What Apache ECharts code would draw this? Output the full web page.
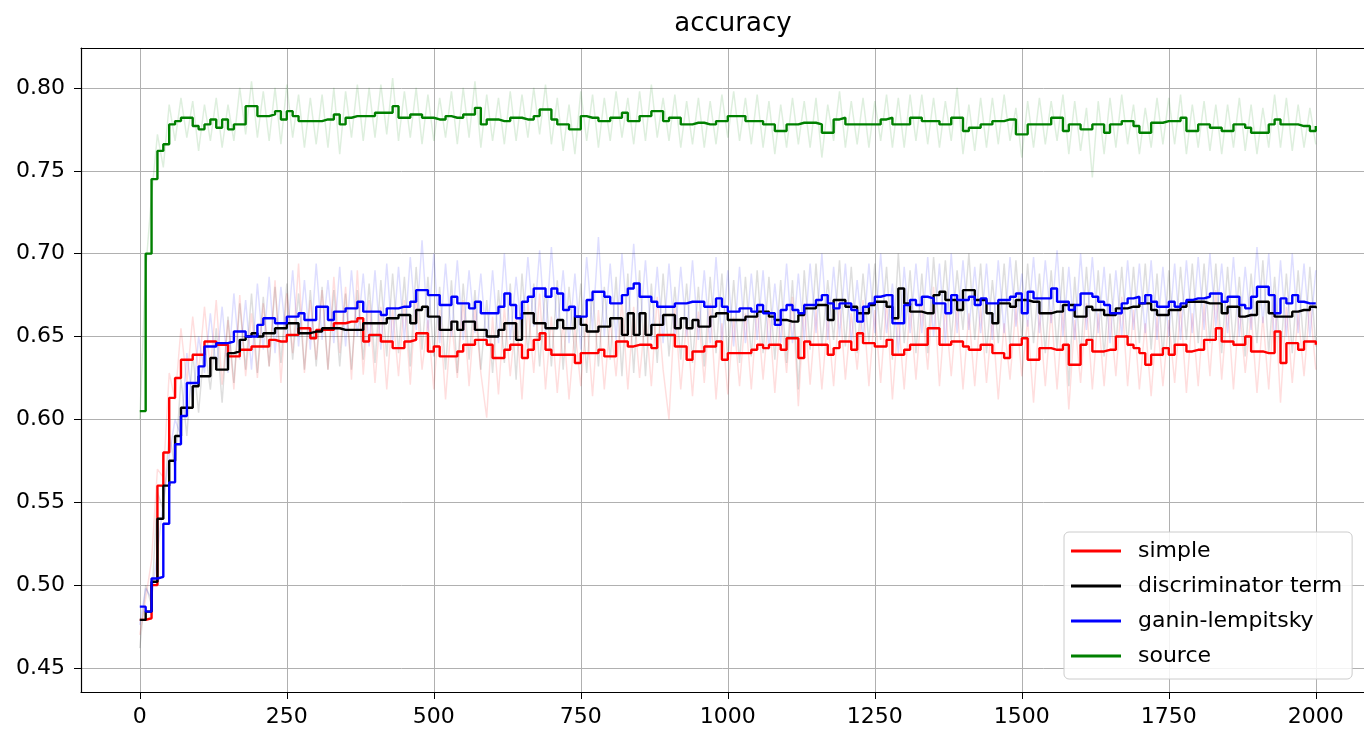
<html>
<head>
<meta charset="utf-8">
<title>accuracy</title>
<script src="https://cdn.jsdelivr.net/npm/echarts@6.0.0/dist/echarts.min.js"></script>
</head>
<body style="margin:0;background:#fff">
<div id="chart" style="width:1364px;height:733px;"></div>
<script type="text/javascript">
// iteration index, one value every 10 steps
var steps = [];
for (var i = 0; i <= 200; i++) steps.push(i * 10);

var names = ['simple', 'discriminator term', 'ganin-lempitsky', 'source'];
var colors = ['#ff0000', '#000000', '#0000ff', '#008000'];
var xTicks = [0, 250, 500, 750, 1000, 1250, 1500, 1750, 2000];
var yTicks = [0.45, 0.50, 0.55, 0.60, 0.65, 0.70, 0.75, 0.80];

// smoothed curves (bold step lines)
var simple = [
 0.479,0.480,0.500,0.560,0.580,0.613,0.625,0.636,0.636,0.639,
 0.639,0.647,0.647,0.645,0.645,0.638,0.638,0.642,0.642,0.644,
 0.644,0.644,0.648,0.647,0.647,0.651,0.651,0.655,0.655,0.649,
 0.654,0.654,0.654,0.658,0.658,0.659,0.659,0.661,0.647,0.651,
 0.651,0.647,0.647,0.643,0.643,0.647,0.648,0.652,0.652,0.641,
 0.644,0.638,0.638,0.638,0.641,0.645,0.645,0.648,0.648,0.645,
 0.637,0.637,0.642,0.645,0.645,0.637,0.642,0.648,0.652,0.642,
 0.639,0.639,0.639,0.639,0.634,0.640,0.640,0.640,0.642,0.638,
 0.638,0.647,0.647,0.644,0.645,0.645,0.645,0.643,0.651,0.651,
 0.651,0.644,0.644,0.636,0.641,0.641,0.644,0.644,0.647,0.636,
 0.640,0.640,0.640,0.640,0.642,0.645,0.643,0.645,0.645,0.642,
 0.649,0.649,0.637,0.647,0.645,0.645,0.645,0.639,0.643,0.647,
 0.647,0.642,0.652,0.646,0.646,0.644,0.644,0.648,0.639,0.639,
 0.642,0.645,0.645,0.645,0.655,0.655,0.645,0.645,0.647,0.647,
 0.644,0.642,0.642,0.645,0.645,0.640,0.640,0.637,0.645,0.645,
 0.649,0.636,0.636,0.643,0.643,0.642,0.642,0.645,0.633,0.633,
 0.645,0.648,0.641,0.641,0.642,0.642,0.650,0.650,0.645,0.643,
 0.640,0.633,0.639,0.639,0.643,0.639,0.645,0.645,0.641,0.642,
 0.642,0.648,0.648,0.655,0.647,0.647,0.645,0.645,0.650,0.641,
 0.641,0.640,0.640,0.653,0.634,0.646,0.646,0.642,0.647,0.647,
 0.645];
var discrim = [
 0.479,0.484,0.502,0.540,0.560,0.575,0.590,0.607,0.607,0.620,
 0.626,0.626,0.637,0.630,0.630,0.640,0.641,0.648,0.650,0.652,
 0.650,0.652,0.652,0.655,0.655,0.658,0.658,0.652,0.652,0.653,
 0.653,0.655,0.655,0.655,0.654,0.654,0.654,0.654,0.658,0.658,
 0.658,0.658,0.661,0.661,0.663,0.663,0.658,0.666,0.668,0.662,
 0.662,0.654,0.654,0.659,0.654,0.659,0.659,0.654,0.654,0.650,
 0.650,0.654,0.658,0.658,0.648,0.664,0.664,0.658,0.658,0.655,
 0.655,0.660,0.655,0.655,0.662,0.657,0.653,0.653,0.656,0.656,
 0.661,0.661,0.651,0.664,0.651,0.664,0.651,0.657,0.657,0.663,
 0.663,0.655,0.661,0.655,0.660,0.656,0.656,0.662,0.664,0.664,
 0.660,0.660,0.660,0.662,0.662,0.665,0.665,0.662,0.660,0.660,
 0.659,0.659,0.663,0.667,0.667,0.669,0.669,0.660,0.672,0.672,
 0.668,0.668,0.664,0.664,0.669,0.671,0.671,0.668,0.661,0.679,
 0.670,0.665,0.665,0.664,0.664,0.675,0.677,0.672,0.672,0.666,
 0.678,0.678,0.672,0.672,0.664,0.658,0.670,0.670,0.668,0.672,
 0.672,0.671,0.671,0.664,0.664,0.665,0.665,0.669,0.669,0.662,
 0.662,0.668,0.666,0.666,0.663,0.663,0.667,0.667,0.668,0.668,
 0.670,0.670,0.666,0.663,0.663,0.666,0.666,0.668,0.671,0.671,
 0.671,0.670,0.670,0.670,0.664,0.668,0.668,0.662,0.663,0.663,
 0.671,0.671,0.664,0.662,0.662,0.662,0.665,0.666,0.666,0.668,
 0.667];
var ganin = [
 0.487,0.484,0.504,0.505,0.537,0.562,0.585,0.602,0.622,0.622,
 0.632,0.644,0.644,0.646,0.646,0.647,0.653,0.653,0.650,0.650,
 0.657,0.661,0.661,0.658,0.658,0.662,0.662,0.664,0.660,0.660,
 0.668,0.668,0.660,0.665,0.665,0.667,0.667,0.671,0.665,0.665,
 0.665,0.663,0.667,0.667,0.668,0.668,0.671,0.678,0.678,0.675,
 0.675,0.669,0.669,0.674,0.670,0.670,0.667,0.671,0.664,0.664,
 0.664,0.668,0.676,0.669,0.661,0.671,0.674,0.679,0.679,0.674,
 0.679,0.676,0.666,0.668,0.662,0.662,0.672,0.677,0.677,0.674,
 0.670,0.670,0.675,0.679,0.682,0.674,0.674,0.671,0.668,0.668,
 0.668,0.670,0.670,0.671,0.671,0.671,0.668,0.668,0.673,0.668,
 0.665,0.665,0.667,0.667,0.665,0.669,0.664,0.664,0.657,0.666,
 0.669,0.666,0.664,0.669,0.669,0.672,0.675,0.670,0.667,0.670,
 0.670,0.666,0.659,0.668,0.670,0.674,0.675,0.675,0.658,0.658,
 0.669,0.672,0.669,0.674,0.673,0.670,0.670,0.664,0.675,0.672,
 0.672,0.674,0.669,0.673,0.670,0.670,0.672,0.672,0.674,0.676,
 0.664,0.677,0.673,0.673,0.673,0.679,0.671,0.671,0.666,0.669,
 0.676,0.676,0.674,0.671,0.669,0.664,0.664,0.670,0.673,0.674,
 0.670,0.675,0.671,0.668,0.668,0.671,0.668,0.670,0.672,0.673,
 0.673,0.674,0.676,0.676,0.671,0.674,0.674,0.669,0.667,0.674,
 0.680,0.680,0.675,0.664,0.673,0.670,0.675,0.671,0.670,0.670,
 0.670];
var source = [
 0.605,0.700,0.745,0.762,0.766,0.778,0.780,0.782,0.782,0.777,
 0.775,0.778,0.781,0.776,0.781,0.775,0.778,0.778,0.789,0.789,
 0.783,0.783,0.784,0.786,0.781,0.786,0.783,0.780,0.780,0.780,
 0.780,0.781,0.781,0.784,0.778,0.782,0.783,0.783,0.783,0.783,
 0.785,0.785,0.785,0.789,0.782,0.782,0.784,0.784,0.782,0.782,
 0.781,0.781,0.783,0.782,0.782,0.784,0.784,0.788,0.778,0.781,
 0.781,0.780,0.780,0.782,0.782,0.781,0.781,0.783,0.787,0.787,
 0.781,0.778,0.778,0.775,0.775,0.783,0.782,0.782,0.780,0.780,
 0.782,0.782,0.785,0.780,0.780,0.783,0.783,0.786,0.786,0.780,
 0.782,0.782,0.778,0.778,0.779,0.779,0.778,0.778,0.780,0.780,
 0.783,0.783,0.783,0.780,0.780,0.780,0.778,0.778,0.774,0.774,
 0.778,0.778,0.779,0.779,0.779,0.778,0.773,0.773,0.781,0.782,
 0.778,0.778,0.778,0.778,0.778,0.778,0.781,0.782,0.778,0.778,
 0.778,0.782,0.782,0.780,0.780,0.780,0.778,0.778,0.782,0.782,
 0.774,0.776,0.776,0.778,0.778,0.780,0.780,0.781,0.781,0.772,
 0.772,0.778,0.778,0.778,0.778,0.782,0.782,0.774,0.778,0.778,
 0.775,0.775,0.778,0.778,0.773,0.778,0.778,0.780,0.780,0.777,
 0.773,0.773,0.779,0.779,0.780,0.780,0.780,0.782,0.774,0.774,
 0.778,0.778,0.776,0.776,0.774,0.774,0.778,0.778,0.776,0.773,
 0.773,0.773,0.778,0.781,0.778,0.778,0.778,0.777,0.777,0.774,
 0.777];

// raw measurements (faint lines)
var simpleRaw = [
 0.470,0.492,0.515,0.570,0.565,0.628,0.612,0.655,0.622,0.662,
 0.628,0.668,0.630,0.672,0.621,0.660,0.618,0.675,0.626,0.664,
 0.625,0.670,0.632,0.684,0.622,0.676,0.640,0.694,0.628,0.672,
 0.636,0.678,0.630,0.686,0.640,0.680,0.624,0.690,0.627,0.672,
 0.622,0.668,0.618,0.666,0.626,0.672,0.621,0.676,0.630,0.660,
 0.618,0.666,0.612,0.660,0.625,0.672,0.620,0.668,0.628,0.601,
 0.662,0.615,0.668,0.626,0.664,0.612,0.670,0.628,0.676,0.618,
 0.662,0.616,0.660,0.612,0.655,0.620,0.662,0.614,0.666,0.618,
 0.660,0.626,0.672,0.618,0.668,0.625,0.664,0.620,0.674,0.630,
 0.600,0.668,0.618,0.660,0.614,0.665,0.622,0.670,0.612,0.658,
 0.615,0.662,0.620,0.664,0.618,0.668,0.624,0.666,0.616,0.664,
 0.628,0.674,0.608,0.670,0.621,0.666,0.618,0.662,0.620,0.672,
 0.624,0.664,0.630,0.672,0.620,0.666,0.622,0.672,0.612,0.662,
 0.618,0.668,0.624,0.670,0.630,0.680,0.620,0.668,0.626,0.670,
 0.618,0.664,0.620,0.668,0.622,0.662,0.612,0.658,0.624,0.668,
 0.626,0.660,0.610,0.664,0.620,0.666,0.618,0.668,0.606,0.660,
 0.622,0.670,0.618,0.664,0.620,0.666,0.626,0.674,0.620,0.666,
 0.618,0.658,0.614,0.662,0.620,0.660,0.622,0.668,0.616,0.664,
 0.620,0.670,0.626,0.678,0.624,0.670,0.618,0.668,0.628,0.664,
 0.616,0.662,0.618,0.676,0.610,0.668,0.622,0.664,0.626,0.670,
 0.630];
var discrimRaw = [
 0.462,0.500,0.488,0.556,0.545,0.592,0.570,0.625,0.590,0.640,
 0.604,0.646,0.618,0.655,0.610,0.662,0.622,0.670,0.630,0.676,
 0.628,0.674,0.632,0.680,0.634,0.682,0.636,0.676,0.630,0.678,
 0.632,0.680,0.630,0.678,0.632,0.676,0.630,0.678,0.636,0.682,
 0.634,0.684,0.638,0.688,0.640,0.686,0.632,0.692,0.642,0.686,
 0.638,0.680,0.630,0.684,0.628,0.682,0.636,0.678,0.630,0.672,
 0.628,0.678,0.634,0.682,0.624,0.688,0.640,0.682,0.632,0.680,
 0.632,0.684,0.630,0.680,0.638,0.682,0.628,0.678,0.632,0.680,
 0.636,0.686,0.626,0.688,0.628,0.690,0.626,0.682,0.634,0.688,
 0.638,0.680,0.636,0.682,0.634,0.680,0.632,0.686,0.640,0.688,
 0.636,0.684,0.634,0.686,0.638,0.690,0.640,0.686,0.636,0.684,
 0.634,0.684,0.618,0.690,0.642,0.694,0.644,0.684,0.648,0.696,
 0.644,0.692,0.640,0.688,0.646,0.694,0.648,0.692,0.636,0.700,
 0.646,0.690,0.640,0.688,0.640,0.698,0.652,0.696,0.648,0.690,
 0.654,0.700,0.648,0.694,0.640,0.684,0.646,0.694,0.644,0.696,
 0.648,0.694,0.646,0.688,0.640,0.690,0.642,0.692,0.620,0.686,
 0.638,0.692,0.642,0.690,0.638,0.688,0.644,0.692,0.644,0.692,
 0.646,0.694,0.642,0.688,0.638,0.690,0.642,0.692,0.648,0.694,
 0.646,0.694,0.646,0.694,0.640,0.692,0.644,0.686,0.638,0.688,
 0.646,0.696,0.640,0.686,0.638,0.688,0.640,0.690,0.642,0.692,
 0.644];
var ganinRaw = [
 0.476,0.498,0.492,0.520,0.550,0.578,0.600,0.590,0.640,0.610,
 0.650,0.628,0.664,0.630,0.668,0.628,0.676,0.636,0.672,0.630,
 0.682,0.642,0.686,0.640,0.680,0.646,0.690,0.644,0.684,0.642,
 0.694,0.648,0.684,0.646,0.692,0.644,0.690,0.650,0.688,0.644,
 0.690,0.642,0.694,0.646,0.692,0.648,0.698,0.654,0.708,0.652,
 0.700,0.646,0.694,0.650,0.696,0.648,0.690,0.652,0.688,0.644,
 0.690,0.646,0.700,0.648,0.686,0.650,0.698,0.656,0.702,0.650,
 0.704,0.654,0.690,0.646,0.688,0.642,0.698,0.654,0.710,0.650,
 0.694,0.648,0.700,0.656,0.706,0.652,0.696,0.648,0.692,0.646,
 0.694,0.648,0.692,0.650,0.696,0.648,0.690,0.646,0.698,0.646,
 0.690,0.644,0.692,0.646,0.688,0.648,0.690,0.642,0.682,0.646,
 0.694,0.646,0.688,0.648,0.694,0.652,0.700,0.648,0.692,0.650,
 0.694,0.646,0.684,0.648,0.694,0.652,0.700,0.652,0.682,0.640,
 0.692,0.652,0.694,0.652,0.698,0.650,0.694,0.646,0.700,0.652,
 0.696,0.654,0.692,0.652,0.694,0.648,0.696,0.652,0.698,0.656,
 0.688,0.656,0.698,0.652,0.696,0.658,0.702,0.650,0.692,0.648,
 0.700,0.654,0.698,0.652,0.692,0.646,0.690,0.650,0.696,0.654,
 0.694,0.652,0.696,0.648,0.692,0.650,0.694,0.648,0.696,0.652,
 0.698,0.654,0.700,0.656,0.694,0.652,0.698,0.650,0.692,0.654,
 0.704,0.658,0.700,0.646,0.696,0.650,0.700,0.652,0.694,0.650,
 0.690];
var sourceRaw = [
 0.600,0.690,0.735,0.772,0.752,0.790,0.768,0.794,0.770,0.792,
 0.762,0.790,0.768,0.794,0.764,0.790,0.768,0.800,0.772,0.804,
 0.770,0.798,0.768,0.800,0.766,0.802,0.770,0.796,0.764,0.794,
 0.766,0.796,0.764,0.800,0.760,0.798,0.770,0.802,0.768,0.800,
 0.770,0.802,0.772,0.806,0.768,0.798,0.770,0.800,0.766,0.796,
 0.768,0.794,0.770,0.798,0.766,0.800,0.770,0.804,0.764,0.796,
 0.768,0.794,0.766,0.798,0.768,0.796,0.770,0.800,0.772,0.802,
 0.766,0.794,0.762,0.790,0.760,0.798,0.768,0.796,0.764,0.794,
 0.768,0.798,0.770,0.794,0.766,0.798,0.768,0.802,0.770,0.794,
 0.768,0.796,0.764,0.792,0.766,0.794,0.764,0.792,0.766,0.796,
 0.770,0.798,0.768,0.794,0.766,0.796,0.764,0.792,0.760,0.790,
 0.764,0.794,0.766,0.792,0.764,0.794,0.758,0.790,0.768,0.798,
 0.764,0.792,0.766,0.794,0.764,0.792,0.768,0.796,0.764,0.794,
 0.764,0.796,0.768,0.796,0.766,0.794,0.764,0.792,0.768,0.800,
 0.760,0.790,0.762,0.794,0.764,0.794,0.766,0.796,0.768,0.788,
 0.758,0.792,0.764,0.794,0.766,0.792,0.768,0.796,0.760,0.792,
 0.762,0.788,0.746,0.792,0.760,0.794,0.764,0.796,0.766,0.790,
 0.760,0.788,0.764,0.794,0.766,0.794,0.766,0.796,0.760,0.790,
 0.764,0.792,0.762,0.790,0.760,0.790,0.764,0.794,0.762,0.790,
 0.760,0.788,0.764,0.796,0.764,0.794,0.762,0.790,0.764,0.788,
 0.766];

var smooth = [simple, discrim, ganin, source];
var raw = [simpleRaw, discrimRaw, ganinRaw, sourceRaw];

function pairs(vals) {
    return vals.map(function (v, i) { return [steps[i], v]; });
}

var font = 'DejaVu Sans';
var series = [];
// faint raw lines first, bold smoothed lines on top
raw.forEach(function (vals, k) {
    series.push({
        name: names[k] + ' raw',
        type: 'line',
        data: pairs(vals),
        showSymbol: false,
        silent: true,
        color: colors[k],
        lineStyle: { width: 1.5, opacity: 0.13 },
        z: 2
    });
});
smooth.forEach(function (vals, k) {
    series.push({
        name: names[k],
        type: 'line',
        step: 'end',
        data: pairs(vals),
        showSymbol: false,
        color: colors[k],
        lineStyle: { width: 2.4 },
        z: 3 + k
    });
});

var chart = echarts.init(document.getElementById('chart'));
chart.setOption({
    animation: false,
    backgroundColor: '#fff',
    title: {
        text: 'accuracy',
        left: 728,
        textAlign: 'center',
        top: 6,
        textStyle: { fontFamily: font, fontSize: 26, fontWeight: 'normal', color: '#000' }
    },
    legend: {
        data: names,
        orient: 'vertical',
        left: 1064,
        top: 532,
        icon: 'rect',
        itemWidth: 50,
        itemHeight: 3,
        itemGap: 13,
        padding: [8, 10, 12, 7],
        backgroundColor: 'rgba(255,255,255,0.85)',
        borderColor: '#cccccc',
        borderWidth: 1,
        borderRadius: 5,
        textStyle: { fontFamily: font, fontSize: 22, color: '#000', padding: [0, 0, 0, 12] }
    },
    // plot area runs past the right edge of the picture, so no right border
    grid: {
        left: 81,
        top: 48,
        right: 0,
        height: 644,
        show: false,
        containLabel: false
    },
    xAxis: [{
        type: 'value',
        min: -100,
        max: 2082,
        axisLine: { show: true, lineStyle: { color: '#000', width: 1.2 } },
        axisTick: { show: true, inside: false, length: 7, customValues: xTicks, lineStyle: { color: '#000' } },
        axisLabel: {
            customValues: xTicks, margin: 14, fontFamily: font, fontSize: 22, color: '#000',
            formatter: function (v) { return String(v); }
        },
        splitLine: { show: true, lineStyle: { color: '#b0b0b0', width: 1 } }
    }, {
        type: 'value',
        position: 'top',
        min: -100,
        max: 2082,
        axisLine: { show: true, onZero: false, lineStyle: { color: '#000', width: 1.2 } },
        axisTick: { show: false },
        axisLabel: { show: false },
        splitLine: { show: false }
    }],
    yAxis: {
        type: 'value',
        min: 0.4355,
        max: 0.8241,
        axisLine: { show: true, onZero: false, lineStyle: { color: '#000', width: 1.2 } },
        axisTick: { show: true, inside: false, length: 7, customValues: yTicks, lineStyle: { color: '#000' } },
        axisLabel: {
            customValues: yTicks, margin: 16, fontFamily: font, fontSize: 22, color: '#000',
            formatter: function (v) { return v.toFixed(2); }
        },
        splitLine: { show: true, lineStyle: { color: '#b0b0b0', width: 1 } }
    },
    series: series
});
</script>
</body>
</html>
